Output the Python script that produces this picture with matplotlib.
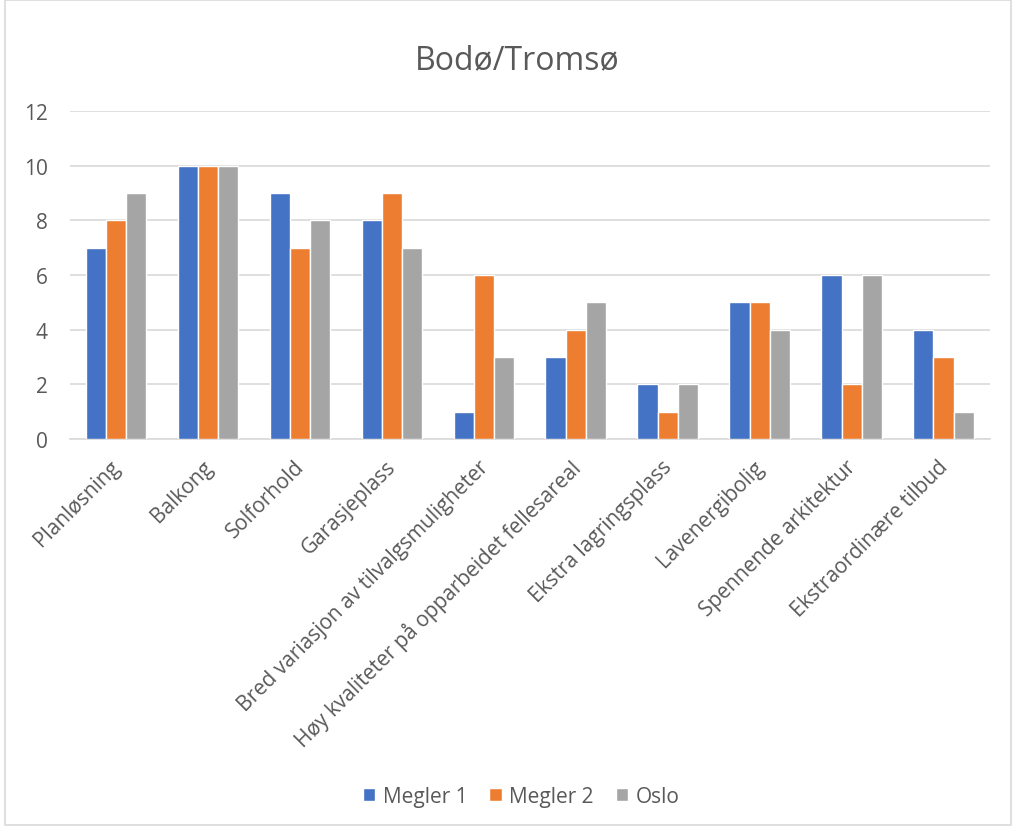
import numpy as np
import matplotlib
matplotlib.use("Agg")
import matplotlib.pyplot as plt
import matplotlib.transforms as mtransforms
from matplotlib.patches import Rectangle

categories = [
    "Planløsning",
    "Balkong",
    "Solforhold",
    "Garasjeplass",
    "Bred variasjon av tilvalgsmuligheter",
    "Høy kvaliteter på opparbeidet fellesareal",
    "Ekstra lagringsplass",
    "Lavenergibolig",
    "Spennende arkitektur",
    "Ekstraordinære tilbud",
]
megler1 = [7, 10, 9, 8, 1, 3, 2, 5, 6, 4]
megler2 = [8, 10, 7, 9, 6, 4, 1, 5, 2, 3]
oslo = [9, 10, 8, 7, 3, 5, 2, 4, 6, 1]

series = [("Megler 1", megler1, "#4472c4"),
          ("Megler 2", megler2, "#ed7d31"),
          ("Oslo", oslo, "#a5a5a5")]

plt.rcParams["font.family"] = ["Open Sans", "DejaVu Sans"]
text_col = "#595959"
grid_col = "#d9d9d9"

fig = plt.figure(figsize=(10.16, 8.29), dpi=100)
ax = fig.add_axes([0.069, 0.469, 0.905, 0.396])

x = np.arange(len(categories))
step = 0.22
for i, (name, vals, col) in enumerate(series):
    ax.bar(x + (i - 1) * step, vals, width=step, color=col,
           edgecolor="white", linewidth=1.0, label=name, zorder=3)

ax.set_xlim(-0.5, len(categories) - 0.5)
ax.set_ylim(0, 12)
ax.set_yticks(range(0, 13, 2))
ax.yaxis.grid(True, color=grid_col, linewidth=1.2, zorder=0)
for s in ["top", "right", "left"]:
    ax.spines[s].set_visible(False)
ax.spines["bottom"].set_color(grid_col)
ax.spines["bottom"].set_linewidth(1.2)
ax.tick_params(axis="both", length=0, colors=text_col, labelsize=15)
ax.tick_params(axis="y", pad=16)
ax.tick_params(axis="x", pad=6)
ax.set_xticks(x)
ax.set_xticklabels(categories, rotation=45, ha="right",
                   rotation_mode="anchor")
# slanted labels sit a touch left of and below their ticks
shift = mtransforms.ScaledTranslation(-4.5 / 72, -6 / 72, fig.dpi_scale_trans)
for lbl in ax.get_xticklabels():
    lbl.set_transform(lbl.get_transform() + shift)

fig.text(0.509, 0.927, "Bodø/Tromsø", ha="center", va="center",
         fontsize=23, color=text_col)

leg = fig.legend(loc="center", bbox_to_anchor=(0.513, 0.038), ncol=3,
                 frameon=False, fontsize=15, handlelength=0.6,
                 handleheight=0.6, handletextpad=0.37, columnspacing=1.05)
for t in leg.get_texts():
    t.set_color(text_col)

# thin frame round the whole chart area
fig.patches.append(Rectangle((0.005, 0.004), 0.99, 0.995,
                             transform=fig.transFigure, fill=False,
                             edgecolor=grid_col, linewidth=1.2))

fig.savefig("out.png", dpi=100)
